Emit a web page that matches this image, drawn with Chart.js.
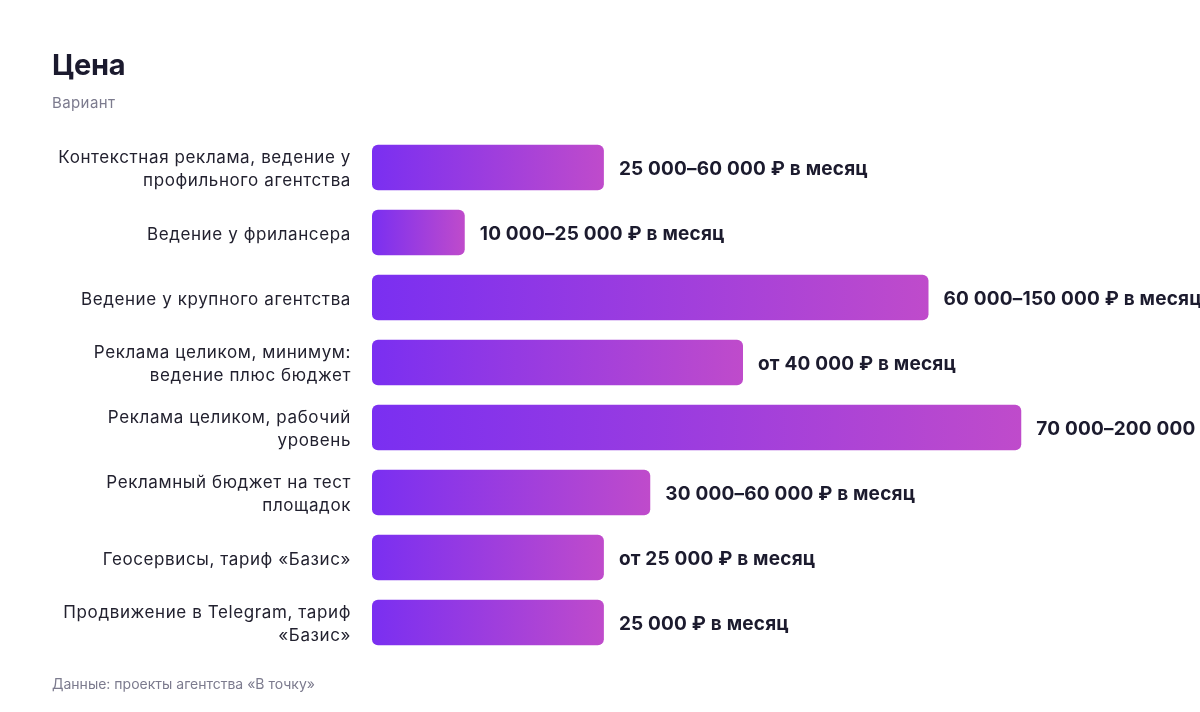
<!DOCTYPE html>
<html lang="ru">
<head>
<meta charset="utf-8">
<title>Цена</title>
<script src="https://cdn.jsdelivr.net/npm/chart.js@4/dist/chart.umd.min.js"></script>
<style>
  html, body { margin: 0; padding: 0; background: #fff; }
  #wrap { position: relative; width: 1200px; height: 712px; overflow: hidden; }
  #chart { position: absolute; left: 0; top: 0; }
  .title { position: absolute; left: 52px; top: 47px; font: 700 29px Inter, "Liberation Sans", sans-serif; color: #1b1a2e; letter-spacing: -0.3px; }
  .sub { position: absolute; left: 52px; top: 93px; font: 15px Inter, "Liberation Sans", sans-serif; color: #7c7b8e; letter-spacing: 0.4px; }
  .foot { position: absolute; left: 52px; top: 675px; font: 14px Inter, "Liberation Sans", sans-serif; color: #7c7b8e; }
</style>
</head>
<body>
<div id="wrap">
  <canvas id="chart" width="1200" height="712"></canvas>
  <div class="title">Цена</div>
  <div class="sub">Вариант</div>
  <div class="foot">Данные: проекты агентства «В точку»</div>
</div>
<script>
// категории (подписи по оси Y)
const categories = [
  ["Контекстная реклама, ведение у", "профильного агентства"],
  "Ведение у фрилансера",
  "Ведение у крупного агентства",
  ["Реклама целиком, минимум:", "ведение плюс бюджет"],
  ["Реклама целиком, рабочий", "уровень"],
  ["Рекламный бюджет на тест", "площадок"],
  "Геосервисы, тариф «Базис»",
  ["Продвижение в Telegram, тариф", "«Базис»"]
];
// нижняя граница цены, тыс. ₽
const priceFrom = [25, 10, 60, 40, 70, 30, 25, 25];
// подписи у столбцов
const priceLabels = [
  "25 000–60 000 ₽ в месяц",
  "10 000–25 000 ₽ в месяц",
  "60 000–150 000 ₽ в месяц",
  "от 40 000 ₽ в месяц",
  "70 000–200 000 ₽ в месяц",
  "30 000–60 000 ₽ в месяц",
  "от 25 000 ₽ в месяц",
  "25 000 ₽ в месяц"
];

const barGradient = (c) => {
  const chart = c.chart;
  if (!chart.chartArea || !chart.scales.x) return "#7b2ff2";
  const xs = chart.scales.x;
  const x0 = xs.getPixelForValue(0);
  const x1 = xs.getPixelForValue(c.raw);
  const g = chart.ctx.createLinearGradient(x0, 0, x1, 0);
  g.addColorStop(0, "#7a2ff1");
  g.addColorStop(1, "#bf4bcb");
  return g;
};

// чуть шире подписи оси
const spacing = {
  id: "spacing",
  beforeLayout(chart) { chart.ctx.letterSpacing = "0.6px"; },
  beforeDraw(chart) { chart.ctx.letterSpacing = "0.6px"; }
};

// подписи справа от столбцов
const valueLabels = {
  id: "valueLabels",
  afterDatasetsDraw(chart) {
    const ctx = chart.ctx;
    const meta = chart.getDatasetMeta(0);
    ctx.save();
    ctx.letterSpacing = "0.2px";
    ctx.font = "bold 19px Inter, 'Liberation Sans', sans-serif";
    ctx.fillStyle = "#1c1b2e";
    ctx.textBaseline = "middle";
    ctx.textAlign = "left";
    meta.data.forEach((bar, i) => {
      ctx.fillText(priceLabels[i], bar.x + 15, bar.y + 1.5);
    });
    ctx.restore();
  }
};

new Chart(document.getElementById("chart"), {
  type: "bar",
  data: {
    labels: categories,
    datasets: [{
      data: priceFrom,
      backgroundColor: barGradient,
      borderRadius: 6,
      borderSkipped: false,
      barPercentage: 0.7,
      categoryPercentage: 1
    }]
  },
  options: {
    indexAxis: "y",
    responsive: false,
    animation: false,
    events: [],
    layout: { padding: { left: 52, right: 86, top: 135, bottom: 57 } },
    plugins: {
      legend: { display: false },
      tooltip: { enabled: false }
    },
    scales: {
      x: { display: false, min: 0, max: 80 },
      y: {
        grid: { display: false, drawTicks: false },
        border: { display: false },
        afterFit(scale) { scale.width = 320; },
        ticks: {
          padding: 21,
          labelOffset: 2,
          color: "#22212f",
          font: { family: "Inter, 'Liberation Sans', sans-serif", size: 17, lineHeight: 1.35 }
        }
      }
    }
  },
  plugins: [spacing, valueLabels]
});
</script>
</body>
</html>
